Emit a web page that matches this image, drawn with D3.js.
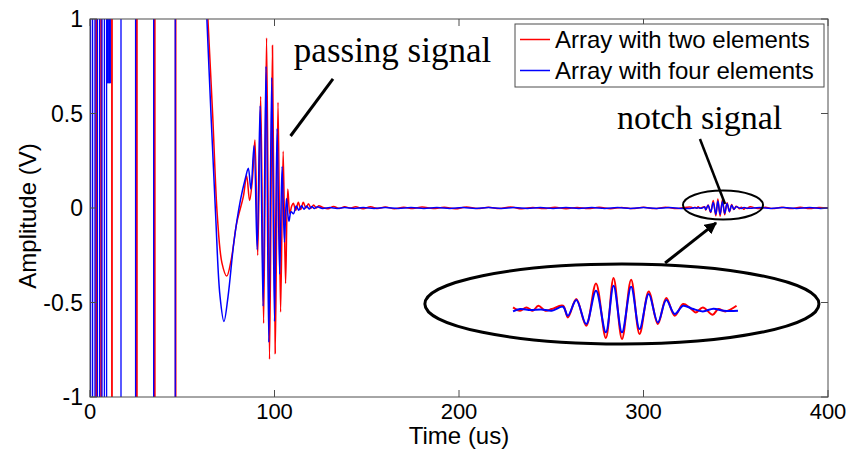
<!DOCTYPE html>
<html>
<head>
<meta charset="utf-8">
<script src="https://cdn.jsdelivr.net/npm/d3@7"></script>
<style>
  body { margin: 0; background: #fff; }
</style>
</head>
<body>
<div id="chart"></div>
<script>
// tick values and labels
const xTicks = [0, 100, 200, 300, 400];
const yTicks = [-1, -0.5, 0, 0.5, 1];
const yTickLabels = ['-1', '-0.5', '0', '0.5', '1'];

const seriesNames = ['Array with two elements', 'Array with four elements'];

// saturated part at the start: times (us) where the trace crosses the whole axis
const redPulses = [3.3, 6.0, 11.9, 25.4, 35.1, 46.4];
const bluePulses = [0.3, 1.4, 2.7, 4.0, 5.2, 6.5, 7.8, 9.0, 16.8, 24.7, 34.5, 46.2];
// short blue strokes near the top, [t, from, to]
const bluePartial = [[9.4, 1, 0.66], [9.8, 1, 0.66], [10.2, 1, 0.66], [10.6, 1, 0.66], [11.0, 1, 0.66]];

// waveform after saturation, [time us, amplitude V]
const redWave = [
  [63.5, 1.08], [66.5, 0.49], [69.0, -0.04], [71.5, -0.29], [74.1, -0.36], [76.6, -0.27],
  [79.5, -0.08], [83.1, 0.06], [84.9, 0.17], [86.5, 0.04], [88.0, 0.15], [89.4, 0.36],
  [90.9, -0.25], [92.5, 0.59], [94.1, -0.61], [95.7, 0.90], [97.3, -0.80], [98.9, 0.86],
  [100.4, -0.77], [101.9, 0.56], [103.3, -0.55], [104.7, 0.30], [106.0, -0.40], [107.2, 0.10],
  [108.3, -0.03], [109.3, 0.01], [110.2, 0.025], [111.5, -0.012], [112.9, 0.03], [114.2, -0.008],
  [115.6, 0.03], [117.0, 0.0], [118.4, 0.022], [119.8, 0.0], [121.2, 0.016], [122.6, 0.0],
  [124.0, 0.012], [126, 0.004], [129, -0.004], [132, 0.008], [135, -0.003], [138, 0.007],
  [141, 0.0], [144, 0.006], [148, -0.004], [152, 0.006], [156, -0.003], [160, 0.005],
  [165, -0.004], [170, 0.004], [175, -0.003], [180, 0.005], [186, -0.003], [192, 0.004],
  [198, -0.004], [204, 0.005], [210, -0.003], [216, 0.004], [222, -0.003], [228, 0.005],
  [234, -0.004], [240, 0.003], [246, -0.003], [252, 0.004], [258, -0.004], [264, 0.003],
  [270, -0.003], [276, 0.004], [282, -0.004], [288, 0.003], [294, -0.003], [300, 0.004],
  [306, -0.003], [312, 0.004], [318, -0.003], [322, 0.003]
];
const blueWave = [
  [63.0, 1.08], [65.6, 0.49], [68.1, -0.04], [70.4, -0.46], [72.6, -0.60], [74.8, -0.47],
  [78.0, -0.18], [81.5, 0.04], [84.3, 0.16], [85.8, 0.21], [87.2, 0.10], [88.9, 0.33],
  [90.6, -0.22], [92.2, 0.54], [93.8, -0.52], [95.4, 0.75], [96.9, -0.71], [98.5, 0.69],
  [100.0, -0.60], [101.4, 0.42], [102.8, -0.35], [104.1, 0.22], [105.4, -0.18], [106.5, 0.05],
  [107.8, -0.07], [109.0, -0.02], [110.3, -0.03], [111.8, 0.01], [113.2, -0.012], [114.6, 0.012],
  [116.0, -0.006], [117.4, 0.01], [118.8, -0.005], [120.2, 0.008], [121.6, -0.003], [123.0, 0.006],
  [126, -0.002], [130, 0.003], [134, -0.002], [138, 0.003], [143, -0.002], [148, 0.002],
  [154, -0.002], [160, 0.002], [167, -0.002], [174, 0.002], [181, -0.002], [188, 0.002],
  [195, -0.002], [202, 0.002], [209, -0.002], [216, 0.002], [223, -0.002], [230, 0.002],
  [237, -0.002], [244, 0.002], [251, -0.002], [258, 0.002], [265, -0.002], [272, 0.002],
  [279, -0.002], [286, 0.002], [293, -0.002], [300, 0.002], [307, -0.002], [314, 0.002],
  [320, -0.002]
];

// notch echo, also shown magnified in the inset
const redNotch = [
  [326.0, 0.004], [327.0, -0.001], [327.9, 0.004], [328.8, -0.001], [329.6, 0.0065], [330.6, -0.001],
  [331.5, 0.0015], [333.1, 0.0065], [333.8, -0.011], [335.0, 0.0165], [336.4, -0.0235], [337.8, 0.040],
  [339.2, -0.042], [340.3, 0.048], [341.5, -0.0435], [342.8, 0.0455], [344.0, -0.036], [345.3, 0.028],
  [346.6, -0.021], [347.8, 0.018], [349.0, -0.0085], [350.2, 0.009], [351.1, 0.004], [352.0, -0.0035],
  [353.0, 0.004], [354.4, -0.007], [355.2, 0.0015], [356.2, -0.002], [357.8, 0.0065]
];
const blueNotch = [
  [326.0, -0.002], [327.0, 0.0015], [328.5, 0.0], [330.0, 0.001], [331.5, -0.001], [333.1, 0.005],
  [333.8, -0.0085], [335.0, 0.015], [336.4, -0.021], [337.8, 0.029], [339.2, -0.0335], [340.3, 0.0365],
  [341.5, -0.0335], [342.8, 0.035], [344.0, -0.0285], [345.3, 0.024], [346.6, -0.0185], [347.8, 0.015],
  [349.0, -0.006], [350.2, 0.0065], [351.5, 0.002], [353.0, -0.002], [354.5, 0.002], [356.0, -0.001],
  [358.0, -0.001]
];

const redEnd = [[362, -0.003], [366, 0.004], [370, -0.003], [375, 0.004], [380, -0.003], [385, 0.004], [390, -0.003], [395, 0.003], [400, 0.0]];
const blueEnd = [[363, 0.002], [369, -0.002], [376, 0.002], [383, -0.002], [390, 0.002], [396, -0.002], [400, 0.0]];

(function() {
  const width = 852;
  const height = 452;
  const margin = { top: 19, right: 24, bottom: 55, left: 90 };
  const red = '#ff0000';
  const blue = '#0000ff';
  const sans = "'Liberation Sans', Arial, sans-serif";
  const serif = "'Liberation Serif', 'Times New Roman', serif";

  const x = d3.scaleLinear().domain([0, 400]).range([margin.left, width - margin.right]);
  const y = d3.scaleLinear().domain([-1, 1]).range([height - margin.bottom, margin.top]);

  const svg = d3.select('#chart')
    .append('svg')
    .attr('width', width)
    .attr('height', height)
    .attr('viewBox', [0, 0, width, height]);

  svg.append('rect').attr('width', width).attr('height', height).attr('fill', '#fff');

  svg.append('clipPath').attr('id', 'plot-clip')
    .append('rect')
    .attr('x', margin.left).attr('y', margin.top)
    .attr('width', width - margin.left - margin.right)
    .attr('height', height - margin.top - margin.bottom);

  const plot = svg.append('g').attr('clip-path', 'url(#plot-clip)');

  // saturated vertical strokes
  const drawPulses = (times, color, w) => {
    plot.selectAll(null)
      .data(times)
      .enter()
      .append('line')
      .attr('x1', d => x(d)).attr('x2', d => x(d))
      .attr('y1', y(1.2)).attr('y2', y(-1.2))
      .attr('stroke', color)
      .attr('stroke-width', w);
  };
  drawPulses(redPulses, red, 1.8);
  drawPulses(bluePulses, blue, 1.3);
  plot.selectAll(null)
    .data(bluePartial)
    .enter()
    .append('line')
    .attr('x1', d => x(d[0])).attr('x2', d => x(d[0]))
    .attr('y1', d => y(d[1])).attr('y2', d => y(d[2]))
    .attr('stroke', blue)
    .attr('stroke-width', 1.3);

  const line = d3.line()
    .x(d => x(d[0]))
    .y(d => y(d[1]))
    .curve(d3.curveCatmullRom.alpha(0.5));

  plot.append('path')
    .datum(redWave.concat(redNotch, redEnd))
    .attr('d', line)
    .attr('fill', 'none')
    .attr('stroke', red)
    .attr('stroke-width', 1.5);

  plot.append('path')
    .datum(blueWave.concat(blueNotch, blueEnd))
    .attr('d', line)
    .attr('fill', 'none')
    .attr('stroke', blue)
    .attr('stroke-width', 1.5);

  // axes frame with inward ticks on all four sides
  const frame = svg.append('g').attr('font-family', sans).attr('fill', '#000');
  const axisColor = '#4d4d4d';
  frame.append('rect')
    .attr('x', x(0)).attr('y', y(1))
    .attr('width', x(400) - x(0)).attr('height', y(-1) - y(1))
    .attr('fill', 'none').attr('stroke', axisColor).attr('stroke-width', 1);

  const tickLen = 7;
  frame.selectAll(null).data(xTicks).enter().append('path')
    .attr('d', d => `M${x(d)},${y(-1)}v${-tickLen}M${x(d)},${y(1)}v${tickLen}`)
    .attr('stroke', axisColor);
  frame.selectAll(null).data(yTicks).enter().append('path')
    .attr('d', d => `M${x(0)},${y(d)}h${tickLen}M${x(400)},${y(d)}h${-tickLen}`)
    .attr('stroke', axisColor);

  frame.selectAll(null).data(xTicks).enter().append('text')
    .attr('x', d => x(d))
    .attr('y', y(-1) + 22)
    .attr('text-anchor', 'middle')
    .attr('font-size', '22px')
    .text(d => d);

  frame.selectAll(null).data(yTicks).enter().append('text')
    .attr('x', x(0) - 7)
    .attr('y', d => y(d))
    .attr('dy', '0.36em')
    .attr('text-anchor', 'end')
    .attr('font-size', '23px')
    .text((d, i) => yTickLabels[i]);

  frame.append('text')
    .attr('x', (x(0) + x(400)) / 2)
    .attr('y', 444)
    .attr('text-anchor', 'middle')
    .attr('font-size', '24px')
    .text('Time (us)');

  frame.append('text')
    .attr('transform', `translate(36,${y(0) + 8}) rotate(-90)`)
    .attr('text-anchor', 'middle')
    .attr('font-size', '24px')
    .text('Amplitude (V)');

  // legend
  const legend = svg.append('g').attr('font-family', sans);
  legend.append('rect')
    .attr('x', 515).attr('y', 24).attr('width', 309).attr('height', 63)
    .attr('fill', '#fff').attr('stroke', axisColor).attr('stroke-width', 1);
  [red, blue].forEach((c, i) => {
    legend.append('line')
      .attr('x1', 520).attr('x2', 550)
      .attr('y1', 39.5 + i * 31).attr('y2', 39.5 + i * 31)
      .attr('stroke', c).attr('stroke-width', 1.5);
    legend.append('text')
      .attr('x', 555).attr('y', 48 + i * 31)
      .attr('font-size', '24px')
      .text(seriesNames[i]);
  });

  // annotations, placed in data units
  const notes = svg.append('g');
  notes.append('defs').append('marker')
    .attr('id', 'head')
    .attr('viewBox', '0 0 10 10')
    .attr('refX', 9).attr('refY', 5)
    .attr('markerWidth', 4).attr('markerHeight', 4)
    .attr('orient', 'auto')
    .append('path').attr('d', 'M0,0L10,5L0,10z').attr('fill', '#000');

  notes.append('text')
    .attr('x', x(110.5)).attr('y', y(0.77))
    .attr('font-family', serif).attr('font-size', '35px')
    .text('passing signal');
  notes.append('line')
    .attr('x1', x(131.7)).attr('y1', y(0.683))
    .attr('x2', x(108.7)).attr('y2', y(0.381))
    .attr('stroke', '#000').attr('stroke-width', 3);

  notes.append('text')
    .attr('x', x(285.6)).attr('y', y(0.418))
    .attr('font-family', serif).attr('font-size', '34px')
    .text('notch signal');
  notes.append('line')
    .attr('x1', x(330.6)).attr('y1', y(0.365))
    .attr('x2', x(344.2)).attr('y2', y(0.021))
    .attr('stroke', '#000').attr('stroke-width', 2.5);

  notes.append('ellipse')
    .attr('cx', x(343.1)).attr('cy', y(0.016))
    .attr('rx', x(21.7) - x(0)).attr('ry', y(0) - y(0.077))
    .attr('fill', 'none').attr('stroke', '#000').attr('stroke-width', 2);

  notes.append('ellipse')
    .attr('cx', x(288.3)).attr('cy', y(-0.508))
    .attr('rx', x(106.8) - x(0)).attr('ry', y(0) - y(0.212))
    .attr('fill', '#fff').attr('stroke', '#000').attr('stroke-width', 3);

  notes.append('line')
    .attr('x1', x(311.7)).attr('y1', y(-0.291))
    .attr('x2', x(339.3)).attr('y2', y(-0.079))
    .attr('stroke', '#000').attr('stroke-width', 3)
    .attr('marker-end', 'url(#head)');

  // magnified notch inside the big ellipse
  const xIn = d3.scaleLinear().domain([326, 358]).range([x(229.3), x(351.2)]);
  const yIn = d3.scaleLinear().domain([-0.05, 0.05]).range([y(-0.54) + 33.3, y(-0.54) - 33.3]);
  const lineIn = d3.line()
    .x(d => xIn(d[0]))
    .y(d => yIn(d[1]))
    .curve(d3.curveCatmullRom.alpha(0.5));

  notes.append('path').datum(redNotch).attr('d', lineIn)
    .attr('fill', 'none').attr('stroke', red).attr('stroke-width', 2);
  notes.append('path').datum(blueNotch).attr('d', lineIn)
    .attr('fill', 'none').attr('stroke', blue).attr('stroke-width', 2);
})();
</script>
</body>
</html>
